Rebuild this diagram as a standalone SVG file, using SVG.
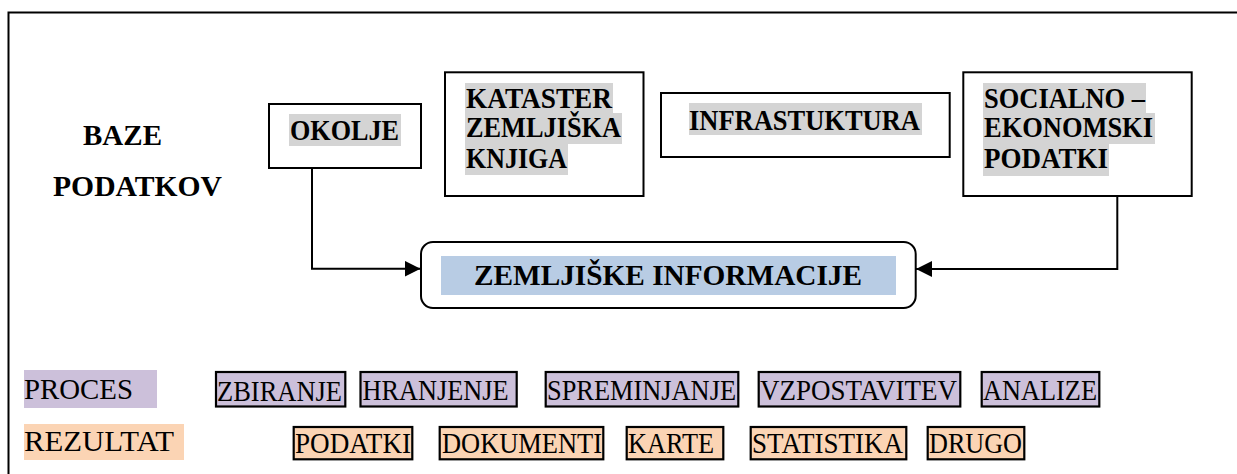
<svg xmlns="http://www.w3.org/2000/svg" width="1237" height="474" viewBox="0 0 1237 474">
  <style>
    .frame { fill: none; stroke: #000; stroke-width: 2; }
    .box { fill: #fff; stroke: #000; stroke-width: 2; }
    .hl { fill: #d4d4d4; }
    .hlb { fill: #b8cce4; }
    .proc { fill: #ccc0da; stroke: #000; stroke-width: 2.2; }
    .res { fill: #fbd4b4; stroke: #000; stroke-width: 2.2; }
    .lbl-proc { fill: #ccc0da; }
    .lbl-res { fill: #fbd4b4; }
    .b { font-family: "Liberation Serif", "Times New Roman", serif; font-weight: bold; font-size: 29px; fill: #000; }
    .r { font-family: "Liberation Serif", "Times New Roman", serif; font-size: 30px; fill: #000; }
    .wire { fill: none; stroke: #000; stroke-width: 2; }
  </style>
  <defs>
    <marker id="arrow" viewBox="0 0 16 16" refX="16" refY="8" markerWidth="16" markerHeight="16" markerUnits="userSpaceOnUse" orient="auto">
      <path d="M0,0 L16,8 L0,16 Z" fill="#000"/>
    </marker>
  </defs>

  <rect width="1237" height="474" fill="#fff"/>
  <!-- page frame -->
  <rect class="frame" x="8.5" y="12.5" width="1240" height="480"/>

  <g id="baze-podatkov">
    <text class="b" x="83" y="145" textLength="79" lengthAdjust="spacingAndGlyphs">BAZE</text>
    <text class="b" x="53" y="196" textLength="169" lengthAdjust="spacingAndGlyphs">PODATKOV</text>
  </g>

  <g id="okolje">
    <rect class="box" x="269" y="104" width="152" height="64"/>
    <rect class="hl" x="289" y="114" width="112" height="32"/>
    <text class="b" x="290" y="140" textLength="109" lengthAdjust="spacingAndGlyphs">OKOLJE</text>
  </g>

  <g id="kataster">
    <rect class="box" x="445" y="72.3" width="198.5" height="123.7"/>
    <rect class="hl" x="465" y="83" width="148" height="30"/>
    <rect class="hl" x="465" y="113" width="157" height="31"/>
    <rect class="hl" x="465" y="144" width="103" height="31"/>
    <text class="b" x="466" y="108" textLength="146" lengthAdjust="spacingAndGlyphs">KATASTER</text>
    <text class="b" x="466" y="137" textLength="155" lengthAdjust="spacingAndGlyphs">ZEMLJIŠKA</text>
    <text class="b" x="466" y="168" textLength="101" lengthAdjust="spacingAndGlyphs">KNJIGA</text>
  </g>

  <g id="infrastuktura">
    <rect class="box" x="661" y="93" width="288.7" height="64"/>
    <rect class="hl" x="689" y="103" width="233" height="32"/>
    <text class="b" x="689" y="130" textLength="231" lengthAdjust="spacingAndGlyphs">INFRASTUKTURA</text>
  </g>

  <g id="socialno-ekonomski">
    <rect class="box" x="963.3" y="72.3" width="228.4" height="123.7"/>
    <rect class="hl" x="983" y="83" width="163" height="30"/>
    <rect class="hl" x="983" y="113" width="172" height="31"/>
    <rect class="hl" x="983" y="144" width="126" height="32"/>
    <text class="b" x="984" y="108" textLength="161" lengthAdjust="spacingAndGlyphs">SOCIALNO –</text>
    <text class="b" x="984" y="137" textLength="169" lengthAdjust="spacingAndGlyphs">EKONOMSKI</text>
    <text class="b" x="984" y="168" textLength="124" lengthAdjust="spacingAndGlyphs">PODATKI</text>
  </g>

  <g id="zemljiske-informacije">
    <rect class="box" x="421" y="242" width="494.7" height="66" rx="12" ry="12"/>
    <rect class="hlb" x="441" y="256" width="455" height="39"/>
    <text class="b" x="474" y="285" textLength="388" lengthAdjust="spacingAndGlyphs">ZEMLJIŠKE INFORMACIJE</text>
  </g>

  <g id="connectors">
    <path class="wire" d="M312,168 V268.7 H420.5" marker-end="url(#arrow)"/>
    <path class="wire" d="M1117.3,196 V269 H916" marker-end="url(#arrow)"/>
  </g>

  <g id="proces">
    <rect class="lbl-proc" x="24" y="370" width="133" height="38"/>
    <text class="r" x="24" y="399" textLength="109" lengthAdjust="spacingAndGlyphs">PROCES</text>
  </g>
  <g id="zbiranje">
    <rect class="proc" x="216" y="372" width="129.3" height="34.5"/>
    <text class="r" x="217" y="401" textLength="125" lengthAdjust="spacingAndGlyphs">ZBIRANJE</text>
  </g>
  <g id="hranjenje">
    <rect class="proc" x="360.5" y="372" width="156.2" height="34.5"/>
    <text class="r" x="362.5" y="400" textLength="146" lengthAdjust="spacingAndGlyphs">HRANJENJE</text>
  </g>
  <g id="spreminjanje">
    <rect class="proc" x="545.7" y="372" width="192.6" height="34.5"/>
    <text class="r" x="547" y="400" textLength="189" lengthAdjust="spacingAndGlyphs">SPREMINJANJE</text>
  </g>
  <g id="vzpostavitev">
    <rect class="proc" x="758.7" y="372" width="201.6" height="34.5"/>
    <text class="r" x="760" y="400" textLength="197" lengthAdjust="spacingAndGlyphs">VZPOSTAVITEV</text>
  </g>
  <g id="analize">
    <rect class="proc" x="981.7" y="372" width="117.6" height="34.5"/>
    <text class="r" x="983" y="400" textLength="114" lengthAdjust="spacingAndGlyphs">ANALIZE</text>
  </g>

  <g id="rezultat">
    <rect class="lbl-res" x="24" y="424" width="160" height="36"/>
    <text class="r" x="24" y="451" textLength="150" lengthAdjust="spacingAndGlyphs">REZULTAT</text>
  </g>
  <g id="podatki">
    <rect class="res" x="293.7" y="427" width="118.6" height="32.3"/>
    <text class="r" x="295" y="452.5" textLength="116" lengthAdjust="spacingAndGlyphs">PODATKI</text>
  </g>
  <g id="dokumenti">
    <rect class="res" x="439.7" y="427" width="163.6" height="32.3"/>
    <text class="r" x="442" y="452.5" textLength="160" lengthAdjust="spacingAndGlyphs">DOKUMENTI</text>
  </g>
  <g id="karte">
    <rect class="res" x="626.7" y="427" width="96.6" height="32.3"/>
    <text class="r" x="628" y="452.5" textLength="86" lengthAdjust="spacingAndGlyphs">KARTE</text>
  </g>
  <g id="statistika">
    <rect class="res" x="750.7" y="427" width="155.6" height="32.3"/>
    <text class="r" x="752" y="452.5" textLength="151" lengthAdjust="spacingAndGlyphs">STATISTIKA</text>
  </g>
  <g id="drugo">
    <rect class="res" x="927.7" y="427" width="96.6" height="32.3"/>
    <text class="r" x="929" y="452.5" textLength="93" lengthAdjust="spacingAndGlyphs">DRUGO</text>
  </g>
</svg>
